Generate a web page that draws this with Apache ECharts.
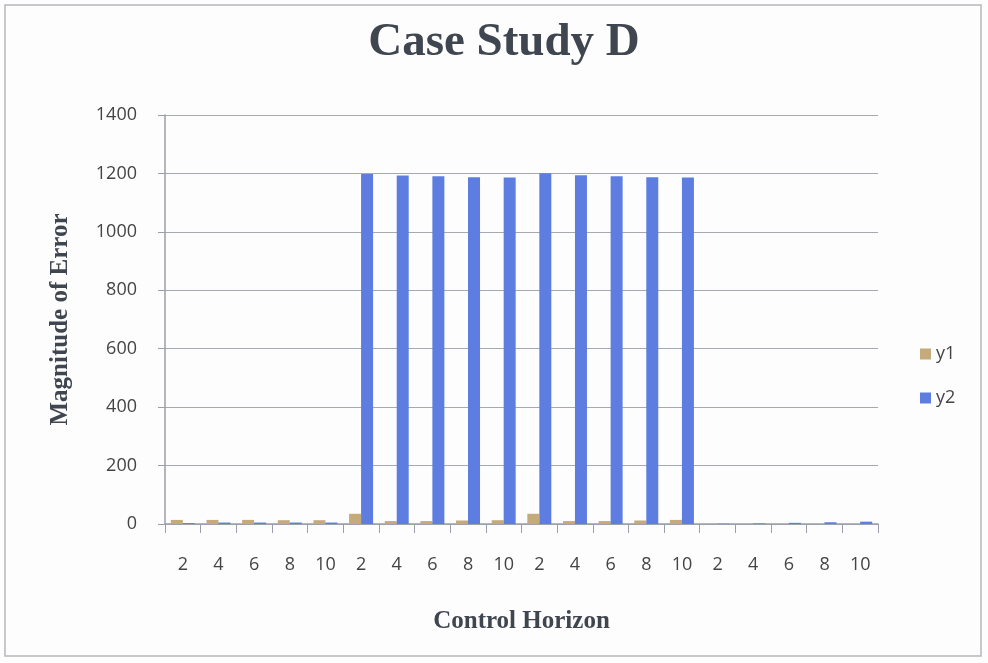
<!DOCTYPE html>
<html>
<head>
<meta charset="utf-8">
<script src="https://cdn.jsdelivr.net/npm/echarts@6/dist/echarts.min.js"></script>
<style>
  html, body { margin: 0; padding: 0; background: #fdfdfd; }
  #chart { width: 988px; height: 663px; }
</style>
</head>
<body>
<div id="chart"></div>
<script>
// Control horizon values, repeated for each of the four runs
const categories = ['2','4','6','8','10','2','4','6','8','10','2','4','6','8','10','2','4','6','8','10'];
const y1Values = [14, 14, 14, 13, 13, 35, 10, 10, 12, 13, 35, 10, 10, 12, 14, 0, 0, 0, 0, 0];
const y2Values = [3, 5, 5, 5, 5, 1198, 1193, 1190, 1187, 1186, 1201, 1194, 1190, 1187, 1186, 1, 2, 4, 6, 8];
const yTicks = { min: 0, max: 1400, interval: 200 };

const chart = echarts.init(document.getElementById('chart'));
chart.setOption({
  backgroundColor: '#fdfdfd',
  animation: false,
  title: {
    text: 'Case Study D',
    left: 499,
    top: 14,
    textAlign: 'center',
    textStyle: { fontFamily: 'Liberation Serif', fontWeight: 'bold', fontSize: 47, color: '#3f4650' }
  },
  legend: {
    orient: 'vertical',
    left: 915,
    top: 340,
    itemGap: 26,
    itemWidth: 11,
    itemHeight: 11,
    icon: 'rect',
    textStyle: { fontFamily: 'Open Sans', fontSize: 18, color: '#444' },
    data: ['y1', 'y2']
  },
  grid: { left: 165, right: 110, top: 115, bottom: 139 },
  xAxis: {
    type: 'category',
    data: categories,
    name: 'Control Horizon',
    nameLocation: 'middle',
    nameGap: 85,
    nameTextStyle: { fontFamily: 'Liberation Serif', fontWeight: 'bold', fontSize: 25, color: '#3f4650' },
    axisLine: { lineStyle: { color: '#9a9ea8', width: 1.5 } },
    axisTick: { show: true, alignWithLabel: false, length: 9, lineStyle: { color: '#9a9ea8' } },
    axisLabel: { margin: 32, fontFamily: 'Open Sans', fontSize: 18, color: '#444', interval: 0 }
  },
  yAxis: {
    type: 'value',
    min: yTicks.min,
    max: yTicks.max,
    interval: yTicks.interval,
    name: 'Magnitude of Error',
    nameLocation: 'middle',
    nameGap: 92,
    nameTextStyle: { fontFamily: 'Liberation Serif', fontWeight: 'bold', fontSize: 25, color: '#3f4650' },
    axisLine: { show: true, lineStyle: { color: '#9a9ea8', width: 1.5 } },
    axisTick: { show: true, length: 7, lineStyle: { color: '#9a9ea8' } },
    axisLabel: { margin: 28, fontFamily: 'Open Sans', fontSize: 18, color: '#444', formatter: v => String(v) },
    splitLine: { lineStyle: { color: '#a6a9b0', width: 1.2 } }
  },
  series: [
    { name: 'y1', type: 'bar', data: y1Values, barWidth: 12, barGap: '0%', itemStyle: { color: '#c5aa7c' } },
    { name: 'y2', type: 'bar', data: y2Values, barWidth: 12, barGap: '0%', itemStyle: { color: '#5d7ee0' } }
  ],
  graphic: [
    {
      type: 'rect',
      shape: { x: 5, y: 5, width: 976, height: 651 },
      style: { fill: 'none', stroke: '#b5b7bc', lineWidth: 1.5 },
      silent: true
    }
  ]
});
</script>
</body>
</html>
